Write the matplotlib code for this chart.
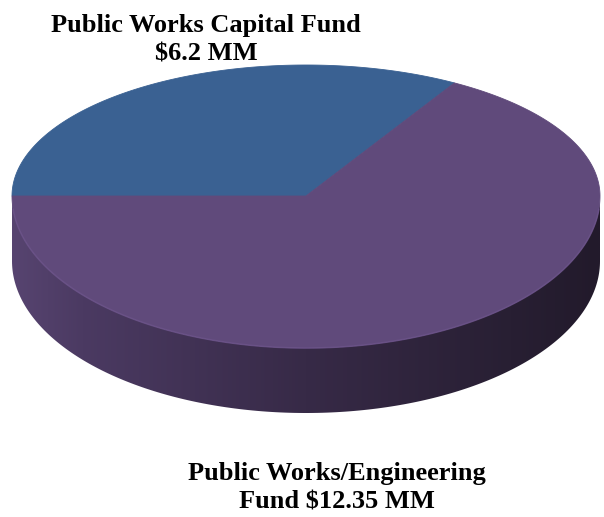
import numpy as np
import matplotlib
matplotlib.use("Agg")
import matplotlib.pyplot as plt
from matplotlib.patches import Polygon
from matplotlib.colors import to_rgb

# Fund split (millions of dollars)
LABELS = ["Public Works Capital Fund\n$6.2 MM",
          "Public Works/Engineering\nFund $12.35 MM"]
VALUES = [6.2, 12.35]
COLORS = ["#3A6192", "#604A7B"]

# Pie geometry in pixel space (y grows downward)
CX, CY = 306.0, 196.0      # projected pie centre
A = 294.0                  # horizontal radius
B_BACK, B_FRONT = 131.0, 152.0   # far / near vertical radii (perspective)
DEPTH = 65.0
START = 180.0              # first wedge starts at 9 o'clock, runs clockwise


def rim(t_deg, dz=0.0):
    t = np.radians(t_deg)
    s = np.sin(t)
    b = np.where(s > 0, B_BACK, B_FRONT)
    return CX + A * np.cos(t), CY - b * s + dz


fig = plt.figure(figsize=(6.04, 5.17), dpi=100)
ax = fig.add_axes([0, 0, 1, 1])
ax.set_xlim(0, 604)
ax.set_ylim(517, 0)
ax.axis("off")

# --- side wall (only the near half is visible) ---
ts = np.linspace(180, 360, 200)
xt, yt = rim(ts)
xb, yb = rim(ts[::-1], DEPTH)
side = Polygon(np.column_stack([np.r_[xt, xb], np.r_[yt, yb]]),
               closed=True, facecolor="none", edgecolor="none")
ax.add_patch(side)

stops = np.array([[0.00, *to_rgb("#574470")],
                  [0.12, *to_rgb("#4B3A62")],
                  [0.50, *to_rgb("#372A47")],
                  [0.85, *to_rgb("#281F33")],
                  [1.00, *to_rgb("#221A2B")]])
gx = np.linspace(0, 1, 400)
grad = np.stack([np.interp(gx, stops[:, 0], stops[:, c]) for c in (1, 2, 3)],
                axis=-1)[None, :, :]
im = ax.imshow(grad, extent=[CX - A, CX + A, CY + B_FRONT + DEPTH + 2, CY - 5],
               aspect="auto", interpolation="bilinear", zorder=1)
im.set_clip_path(side)

# --- top face wedges ---
fracs = np.array(VALUES) / np.sum(VALUES)
t0 = START
for frac, col in zip(fracs, COLORS):
    t1 = t0 - 360.0 * frac
    ts = np.linspace(t0, t1, 300)
    x, y = rim(ts)
    ax.add_patch(Polygon(np.column_stack([np.r_[CX, x], np.r_[CY, y]]),
                         closed=True, facecolor=col, edgecolor=col,
                         lw=0.6, zorder=2))
    t0 = t1

# faint highlight along the front rim
xr, yr = rim(np.linspace(185, 355, 200))
ax.plot(xr, yr, color="#6B5289", lw=1.2, alpha=0.7, zorder=3)

# --- labels (y = baseline of the last line) ---
font = dict(family=["Liberation Serif", "DejaVu Serif"], weight="bold",
            fontsize=19, color="black", ha="center", va="baseline")
for label, (lx, ly) in zip(LABELS, [(206, 60), (337, 508)]):
    ax.text(lx, ly, label, linespacing=1.28, **font)

fig.savefig("out.png", dpi=100, facecolor="white")
